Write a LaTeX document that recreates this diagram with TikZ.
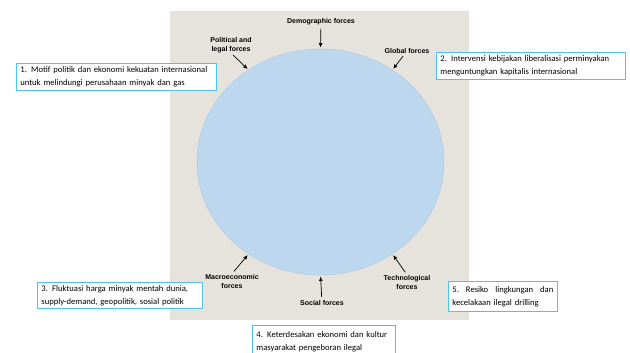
\documentclass[tikz,border=0pt]{standalone}
\usepackage{fontspec}
\setmainfont{Carlito}
\newfontfamily\forcefont{Liberation Sans}
\usetikzlibrary{arrows.meta,positioning,shapes.geometric}
\definecolor{envgray}{HTML}{E5E3DC}
\definecolor{envblue}{HTML}{BDD7EE}
\definecolor{envedge}{HTML}{A7C6E6}
\definecolor{noteline}{HTML}{4CC2EC}
\tikzset{%
	force/.style  = {align=center, inner sep=0pt, font=\forcefont\bfseries\fontsize{7}{9}\selectfont}, % outer label
	note/.style   = {draw=noteline, fill=white, line width=0.8pt, anchor=north west, align=left,
	                 inner xsep=4pt, inner ysep=0pt, font=\fontsize{8.6}{13}\selectfont}, % Keterangan
	arrow/.style  = {line width=0.7pt, -{Latex[length=4.5pt,width=4pt]}, shorten >=1.5pt, shorten <=3pt},
}

\begin{document}
\begin{tikzpicture}[x=1pt, y=-1pt]
	\useasboundingbox (0,0) rectangle (630,353);
	\fill[envgray] (170,11) rectangle (469,320);
	\node[ellipse, fill=envblue, draw=envedge, thin, inner sep=0pt, outer sep=0pt,
	      minimum width=247pt, minimum height=226pt] (circ) at (320.5,162) {};
	
	% forces
	\node[force] (demo) at (321,22) {Demographic forces};
	\node[force] (polit) at (231,45) {Political and\\legal forces};
	\node[force] (glob) at (407,51) {Global forces};
	\node[force] (macro) at (232,281) {Macroeconomic\\forces};
	\node[force] (soc) at (322,303) {Social forces};
	\node[force] (tech) at (407,282) {Technological\\forces};
	
	\draw[arrow] (demo) -- (circ.north);
	\draw[arrow] (polit.south) -- (circ.128);
	\draw[arrow] (glob) -- (circ.52);
	\draw[arrow] (macro.north) -- (circ.232);
	\draw[arrow] (soc) -- (circ.south);
	\draw[arrow] (tech.north) -- (circ.308);
	
	% keterangan
	\node[note, text width=192pt, minimum height=27pt] (k1) at (16,63)
		{1. Motif politik dan ekonomi kekuatan internasional\\untuk melindungi perusahaan minyak dan gas};
	\node[note, text width=181pt, minimum height=27pt] (k2) at (436,52)
		{2. Intervensi kebijakan liberalisasi perminyakan\\menguntungkan kapitalis internasional};
	\node[note, text width=157pt, minimum height=26pt] (k3) at (37,282)
		{3. Fluktuasi harga minyak mentah dunia,\\supply-demand, geopolitik, sosial politik};
	\node[note, text width=135pt, minimum height=33pt, anchor=north west] (k4) at (252,325)
		{4. Keterdesakan ekonomi dan kultur\\masyarakat pengeboran ilegal\\[4pt]};
	\node[note, text width=101pt, minimum height=30pt] (k5) at (448,281)
		{5.\hfill Resiko\hfill lingkungan\hfill dan\\kecelakaan ilegal drilling};
\end{tikzpicture}
\end{document}
